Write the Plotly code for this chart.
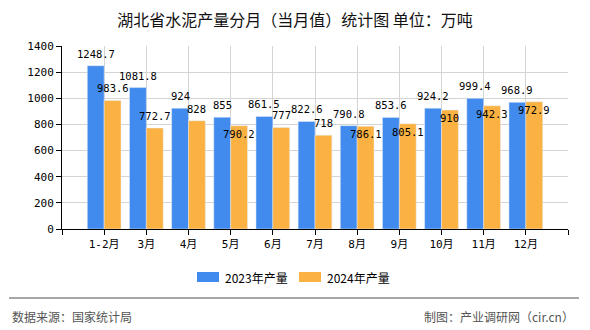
import plotly.graph_objects as go

categories = ["1-2月", "3月", "4月", "5月", "6月", "7月", "8月", "9月", "10月", "11月", "12月"]
values_2023 = [1248.7, 1081.8, 924, 855, 861.5, 822.6, 790.8, 853.6, 924.2, 999.4, 968.9]
values_2024 = [983.6, 772.7, 828, 790.2, 777, 718, 786.1, 805.1, 910, 942.3, 972.9]
series_names = ["2023年产量", "2024年产量"]
y_ticks = [0, 200, 400, 600, 800, 1000, 1200, 1400]

W, H = 590, 330
ML, MR, MT, MB = 62, 22, 46, 101
PW, PH = W - ML - MR, H - MT - MB
BLUE, ORANGE = "#418AEE", "#FBB242"
LABEL_FONT = dict(family="DejaVu Sans Mono, Noto Sans CJK SC", size=10.5, color="#000")
TICK_FONT = dict(family="DejaVu Sans Mono, Noto Sans CJK SC", size=11, color="#000")

xs = list(range(len(categories)))

fig = go.Figure()
fig.add_trace(go.Bar(x=xs, y=values_2023, name=series_names[0], marker_color=BLUE, showlegend=False))
fig.add_trace(go.Bar(x=xs, y=values_2024, name=series_names[1], marker_color=ORANGE, showlegend=False))

ppu = PH / 1400.0
ann = []
for i, (a, b) in enumerate(zip(values_2023, values_2024)):
    ann.append(dict(x=i - 0.2, y=a, xref="x", yref="y", text=f"{a:g}", showarrow=False,
                    yanchor="middle", yshift=12, font=LABEL_FONT))
    shift = 12 if (a - b) * ppu >= 11 else -8
    ann.append(dict(x=i + 0.2, y=b, xref="x", yref="y", text=f"{b:g}", showarrow=False,
                    yanchor="middle", yshift=shift, font=LABEL_FONT))

def px2x(px):
    return (px - ML) / PW

def py2y(py):
    return (H - MB - py) / PH

shapes = []
# manual legend
leg_y = 277
for (x0, x1, col, tx, name) in [(197, 219, BLUE, 223, series_names[0]), (299, 321, ORANGE, 325, series_names[1])]:
    shapes.append(dict(type="rect", xref="paper", yref="paper", x0=px2x(x0), x1=px2x(x1),
                       y0=py2y(leg_y + 5), y1=py2y(leg_y - 5), fillcolor=col, line_width=0))
    ann.append(dict(xref="paper", yref="paper", x=px2x(tx), y=py2y(leg_y), text=name, showarrow=False,
                    xanchor="left", yanchor="middle",
                    font=dict(family="Noto Sans CJK SC", size=12, color="#000")))

# footer
shapes.append(dict(type="line", xref="paper", yref="paper", x0=px2x(9), x1=px2x(579),
                   y0=py2y(298), y1=py2y(298), line=dict(color="#888", width=1.5)))
ann.append(dict(xref="paper", yref="paper", x=px2x(10), y=py2y(316), text="数据来源：国家统计局",
                showarrow=False, xanchor="left", yanchor="middle",
                font=dict(family="Noto Sans CJK SC", size=12, color="#555")))
ann.append(dict(xref="paper", yref="paper", x=px2x(576), y=py2y(316), text="制图：产业调研网（cir.cn）",
                showarrow=False, xanchor="right", yanchor="middle",
                font=dict(family="Noto Sans CJK SC", size=12, color="#555")))

fig.update_layout(
    width=W, height=H,
    margin=dict(l=ML, r=MR, t=MT, b=MB, pad=0),
    paper_bgcolor="white", plot_bgcolor="white",
    barmode="group", bargap=0.2, bargroupgap=0,
    title=dict(text="湖北省水泥产量分月（当月值）统计图 单位：万吨", x=0.5, xref="container", xanchor="center",
               y=1 - 20 / H, yref="container", yanchor="middle",
               font=dict(family="Noto Sans CJK SC", size=16, color="#111")),
    showlegend=False,
    annotations=ann, shapes=shapes,
    xaxis=dict(range=[-1, len(categories)], tickvals=list(range(-1, len(categories) + 1)),
               ticktext=[""] + categories + [""], showgrid=True, gridcolor="#d4d4d4", gridwidth=1,
               showline=True, linecolor="#000", linewidth=1, ticks="outside", ticklen=5, tickcolor="#000",
               zeroline=False, tickfont=TICK_FONT, fixedrange=True),
    yaxis=dict(range=[0, 1400], tickvals=y_ticks, showgrid=True, gridcolor="#d4d4d4", gridwidth=1,
               showline=True, linecolor="#000", linewidth=1, ticks="outside", ticklen=5, tickcolor="#000",
               zeroline=False, tickfont=TICK_FONT, fixedrange=True),
)

fig.write_html("out.html")
